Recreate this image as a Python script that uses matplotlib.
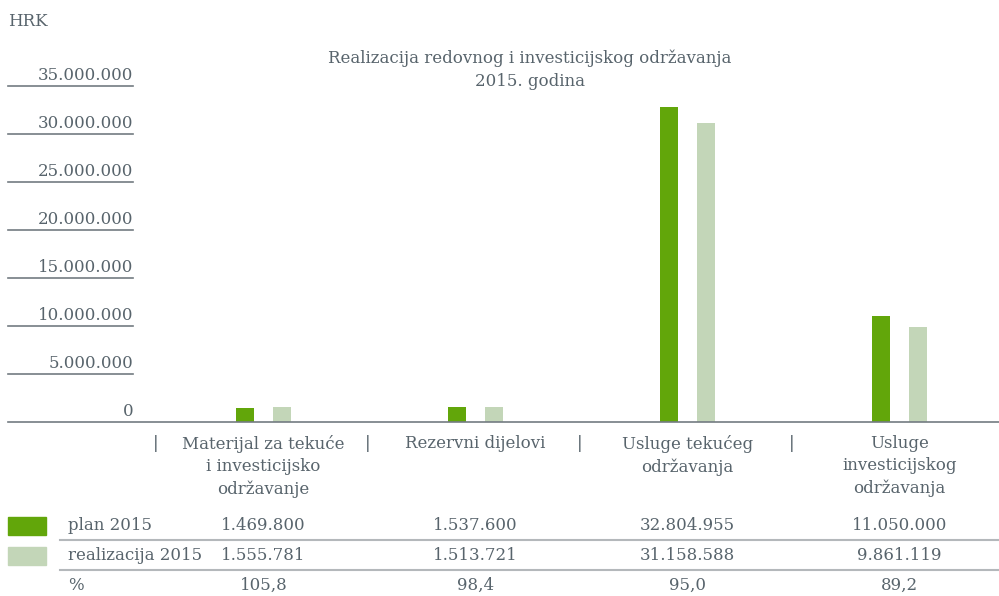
import matplotlib
matplotlib.use('Agg')
import matplotlib.pyplot as plt
from matplotlib.transforms import blended_transform_factory
from matplotlib.patches import Rectangle
import numpy as np

# data
categories = ['Materijal za tekuće\ni investicijsko\nodržavanje',
              'Rezervni dijelovi',
              'Usluge tekućeg\nodržavanja',
              'Usluge\ninvesticijskog\nodržavanja']
plan = [1469800, 1537600, 32804955, 11050000]
realizacija = [1555781, 1513721, 31158588, 9861119]
plan_txt = ['1.469.800', '1.537.600', '32.804.955', '11.050.000']
real_txt = ['1.555.781', '1.513.721', '31.158.588', '9.861.119']
pct_txt = ['105,8', '98,4', '95,0', '89,2']
yticks = [0, 5000000, 10000000, 15000000, 20000000, 25000000, 30000000, 35000000]
ytick_labels = ['0', '5.000.000', '10.000.000', '15.000.000', '20.000.000',
                '25.000.000', '30.000.000', '35.000.000']

W, H = 999, 596
green = '#62a60a'
light = '#c3d6b8'
txt = '#58646c'
axis_col = '#737b82'
line_col = '#b4b8bb'
plt.rcParams['font.family'] = ['DejaVu Serif']
fs = 12

fig = plt.figure(figsize=(W / 100, H / 100), dpi=100)
ax = fig.add_axes([8 / W, 1 - 422 / H, 991 / W, (422 - 86) / H])
x = np.arange(len(categories))
ax.bar(x - 0.0875, plan, width=0.085, color=green)
ax.bar(x + 0.0875, realizacija, width=0.085, color=light)
ax.set_xlim(-1.205, -1.205 + 991 / 212)
ax.set_ylim(0, 35000000)
for s in ['top', 'right', 'left']:
    ax.spines[s].set_visible(False)
ax.spines['bottom'].set_color(axis_col)
ax.spines['bottom'].set_linewidth(1.2)
ax.set_xticks([])
ax.set_yticks([])

# y labels with short underlines
ty = blended_transform_factory(ax.transAxes, ax.transData)
for v, lab in zip(yticks, ytick_labels):
    if v > 0:
        ax.plot([0, 125 / 991], [v, v], color=axis_col, lw=1.2, transform=ty, clip_on=False)
    ax.text(125 / 991, v + 250000, lab, transform=ty, ha='right', va='bottom',
            fontsize=fs, color=txt)

# category labels
tx = blended_transform_factory(ax.transData, fig.transFigure)
for i, c in enumerate(categories):
    ax.text(i, 1 - 435 / H, c, transform=tx, ha='center', va='top', fontsize=fs,
            color=txt, linespacing=1.4)
    ax.text(i - 0.51, 1 - 435 / H, '|', transform=tx, ha='center', va='top',
            fontsize=fs, color=txt)

# title and unit
fig.text(530 / W, 1 - 70 / H, 'Realizacija redovnog i investicijskog održavanja\n2015. godina',
         ha='center', va='center', fontsize=fs, color=txt, linespacing=1.45)
fig.text(8 / W, 1 - 22 / H, 'HRK', ha='left', va='center', fontsize=fs, color=txt)

# table
rows_y = [525, 555, 585]
row_names = ['plan 2015', 'realizacija 2015', '%']
row_vals = [plan_txt, real_txt, pct_txt]
for ry, name, vals in zip(rows_y, row_names, row_vals):
    fig.text(68 / W, 1 - ry / H, name, ha='left', va='center', fontsize=fs, color=txt)
    for i, v in enumerate(vals):
        ax.text(i, 1 - ry / H, v, transform=tx, ha='center', va='center',
                fontsize=fs, color=txt)
for ly in [540, 570]:
    fig.add_artist(plt.Line2D([60 / W, 1], [1 - ly / H, 1 - ly / H], color=line_col,
                              lw=1.5, transform=fig.transFigure))
fig.add_artist(Rectangle((8 / W, 1 - 535 / H), 38 / W, 18 / H, color=green,
                         transform=fig.transFigure))
fig.add_artist(Rectangle((8 / W, 1 - 565 / H), 38 / W, 18 / H, color=light,
                         transform=fig.transFigure))

fig.savefig('out.png', dpi=100)
